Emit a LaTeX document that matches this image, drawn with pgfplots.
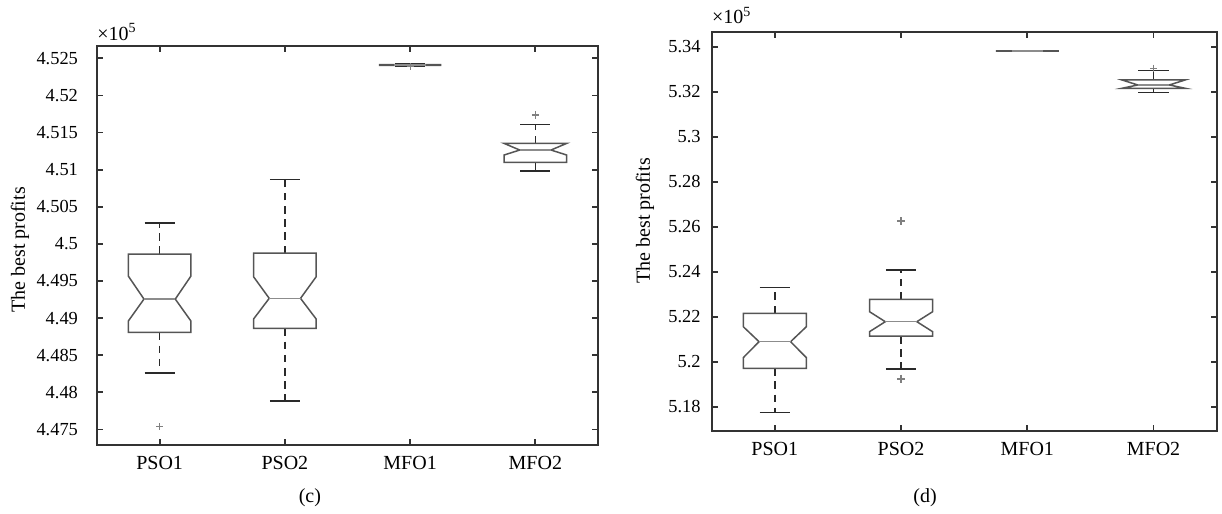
\documentclass[border=0pt]{standalone}
\usepackage{fontspec}
\setmainfont{Liberation Serif}
\usepackage{pgfplots}
\usepackage{pgfplotstable}
\pgfplotsset{compat=1.18}

\definecolor{axisgray}{HTML}{333333}
\definecolor{boxgray}{HTML}{555555}
\definecolor{medgray}{HTML}{8C8C8C}
\definecolor{whiskgray}{HTML}{2A2A2A}
\definecolor{outgray}{HTML}{808080}

% box statistics (values in units of 10^5)
% pos: category, lw/uw: whisker ends, q1/q3: quartiles, nlo/nhi: notch limits
\pgfplotstableread{
pos lw      q1      nlo     med     nhi     q3      uw
1   4.48263 4.48807 4.48960 4.49256 4.49566 4.49863 4.50284
2   4.47886 4.48861 4.48987 4.49266 4.49557 4.49875 4.50869
3   4.52398 4.52405 4.52405 4.52410 4.52415 4.52415 4.52420
4   4.50981 4.51099 4.51197 4.51264 4.51354 4.51354 4.51611
}\statsc

\pgfplotstableread{
pos lw      q1      nlo     med     nhi     q3      uw
1   5.17733 5.19707 5.20178 5.20889 5.21556 5.22151 5.23307
2   5.19676 5.21142 5.21333 5.21778 5.22222 5.22773 5.24076
3   5.33810 5.33810 5.33810 5.33810 5.33810 5.33810 5.33810
4   5.31958 5.32152 5.32152 5.32299 5.32521 5.32521 5.32934
}\statsd

\pgfplotsset{
  boxline/.style={draw=boxgray, line width=0.75pt, line join=miter, mark=none},
  medline/.style={draw=medgray, line width=0.75pt, mark=none},
  whiskline/.style={draw=whiskgray, line width=0.75pt, mark=none},
  outliers/.style={only marks, mark=+, mark size=1.8pt,
    mark options={outgray, line width=0.6pt}},
  profitaxis/.style={
    scale only axis, anchor=south west, clip=false,
    xmin=0.5, xmax=4.5,
    xtick={1,2,3,4}, xticklabels={PSO1,PSO2,MFO1,MFO2},
    tick align=inside, tick pos=both, major tick length=3pt,
    axis line style={axisgray, line width=0.9pt},
    tick style={axisgray, line width=0.9pt},
    /pgf/number format/assume math mode=true,
    yticklabel style={font=\fontsize{9.2}{10}\selectfont,
      /pgf/number format/fixed, /pgf/number format/precision=3},
    xticklabel style={font=\fontsize{10}{12}\selectfont, yshift=-2pt},
    label style={font=\fontsize{10}{12}\selectfont},
    ylabel={The best profits},
    ylabel style={anchor=center},
    xlabel style={anchor=center},
  },
}

% draws one notched box (with dashed whiskers and caps) per table row
\newcommand\notchedboxes[1]{%
  \pgfplotstablegetrowsof{#1}%
  \pgfmathtruncatemacro\lastrow{\pgfplotsretval-1}%
  \pgfplotsforeachungrouped \rowi in {0,...,\lastrow}{%
    \pgfplotstablegetelem{\rowi}{pos}\of{#1}\let\bp\pgfplotsretval
    \pgfplotstablegetelem{\rowi}{lw}\of{#1}\let\vlw\pgfplotsretval
    \pgfplotstablegetelem{\rowi}{q1}\of{#1}\let\vqa\pgfplotsretval
    \pgfplotstablegetelem{\rowi}{nlo}\of{#1}\let\vnlo\pgfplotsretval
    \pgfplotstablegetelem{\rowi}{med}\of{#1}\let\vmed\pgfplotsretval
    \pgfplotstablegetelem{\rowi}{nhi}\of{#1}\let\vnhi\pgfplotsretval
    \pgfplotstablegetelem{\rowi}{q3}\of{#1}\let\vqc\pgfplotsretval
    \pgfplotstablegetelem{\rowi}{uw}\of{#1}\let\vuw\pgfplotsretval
    \pgfmathsetmacro\xl{\bp-0.25}\pgfmathsetmacro\xr{\bp+0.25}%
    \pgfmathsetmacro\nl{\bp-0.125}\pgfmathsetmacro\nr{\bp+0.125}%
    \pgfmathsetmacro\cl{\bp-0.12}\pgfmathsetmacro\cr{\bp+0.12}%
    \edef\drawcmd{%
      \noexpand\addplot[whiskline, dash pattern=on 3.8pt off 2.8pt]
        coordinates {(\bp,\vqc) (\bp,\vuw)};
      \noexpand\addplot[whiskline, dash pattern=on 3.8pt off 2.8pt]
        coordinates {(\bp,\vqa) (\bp,\vlw)};
      \noexpand\addplot[whiskline] coordinates {(\cl,\vuw) (\cr,\vuw)};
      \noexpand\addplot[whiskline] coordinates {(\cl,\vlw) (\cr,\vlw)};
      \noexpand\addplot[boxline] coordinates {
        (\bp,\vqa) (\xl,\vqa) (\xl,\vnlo) (\nl,\vmed) (\xl,\vnhi) (\xl,\vqc)
        (\xr,\vqc) (\xr,\vnhi) (\nr,\vmed) (\xr,\vnlo) (\xr,\vqa) (\bp,\vqa)};
      \noexpand\addplot[medline] coordinates {(\nl,\vmed) (\nr,\vmed)};
    }\drawcmd
  }%
}

\begin{document}
\begin{tikzpicture}
\useasboundingbox (0,0) rectangle (611pt,257pt);

% (c)
\begin{axis}[profitaxis,
  at={(48.5pt,34.5pt)}, width=250.5pt, height=199.5pt,
  ymin=4.4729, ymax=4.52666,
  ytick={4.475,4.48,4.485,4.49,4.495,4.5,4.505,4.51,4.515,4.52,4.525},
  yticklabel style={xshift=-6pt},
  ylabel style={at={(axis description cs:-0.154,0.489)}},
  xlabel={(c)},
  xlabel style={at={(axis description cs:0.425,-0.133)}},
]
\notchedboxes{\statsc}
\addplot[outliers] coordinates {(1,4.47535) (3,4.52387) (4,4.51736)};
\node[anchor=west, inner sep=0pt, font=\fontsize{10}{12}\selectfont]
  at (rel axis cs:0,1.035) {×10\textsuperscript{5}};
\end{axis}

% (d)
\begin{axis}[profitaxis,
  at={(355.85pt,41.5pt)}, width=252.5pt, height=199.35pt,
  ymin=5.1692, ymax=5.3464,
  ytick={5.18,5.2,5.22,5.24,5.26,5.28,5.3,5.32,5.34},
  yticklabel style={xshift=-2pt},
  ylabel style={at={(axis description cs:-0.132,0.527)}},
  xlabel={(d)},
  xlabel style={at={(axis description cs:0.4224,-0.168)}},
]
\notchedboxes{\statsd}
\addplot[outliers] coordinates {(2,5.26253) (2,5.19262) (2,5.19210) (4,5.33040)};
\node[anchor=west, inner sep=0pt, font=\fontsize{10}{12}\selectfont]
  at (rel axis cs:0,1.043) {×10\textsuperscript{5}};
\end{axis}
\end{tikzpicture}
\end{document}
